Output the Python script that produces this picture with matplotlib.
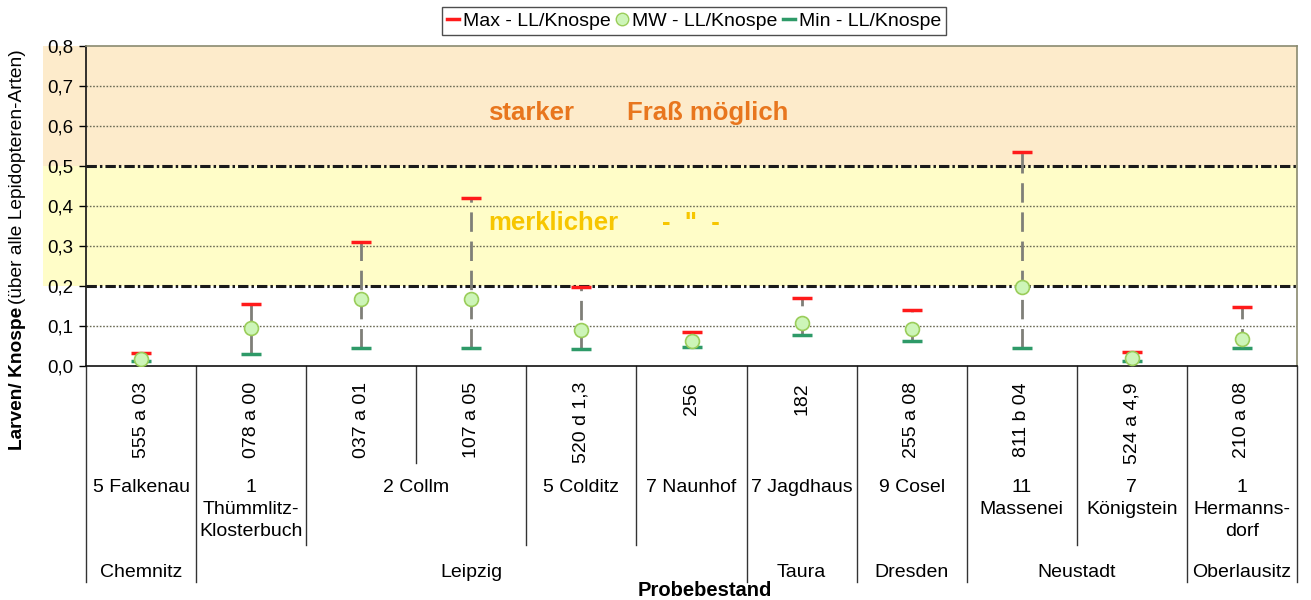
import matplotlib
matplotlib.use("Agg")
import matplotlib.pyplot as plt
import matplotlib.transforms as mtransforms
from matplotlib.patches import Rectangle
from matplotlib.lines import Line2D

plt.rcParams['font.family'] = ['Liberation Sans', 'DejaVu Sans']

# ---------------- data ----------------
codes = ["555 a 03", "078 a 00", "037 a 01", "107 a 05", "520 d 1,3", "256",
         "182", "255 a 08", "811 b 04", "524 a 4,9", "210 a 08"]
max_vals = [0.033, 0.155, 0.31, 0.42, 0.198, 0.085, 0.17, 0.14, 0.535, 0.035, 0.147]
mw_vals = [0.018, 0.095, 0.168, 0.168, 0.09, 0.063, 0.107, 0.093, 0.198, 0.02, 0.067]
min_vals = [0.012, 0.03, 0.045, 0.045, 0.043, 0.048, 0.078, 0.063, 0.045, 0.012, 0.045]

# level 2: (label, first index, last index)
revier = [("5 Falkenau", 0, 0), ("1\nThümmlitz-\nKlosterbuch", 1, 1), ("2 Collm", 2, 3),
          ("5 Colditz", 4, 4), ("7 Naunhof", 5, 5), ("7 Jagdhaus", 6, 6),
          ("9 Cosel", 7, 7), ("11\nMassenei", 8, 8), ("7\nKönigstein", 9, 9),
          ("1\nHermanns-\ndorf", 10, 10)]
# level 3
forstbezirk = [("Chemnitz", 0, 0), ("Leipzig", 1, 5), ("Taura", 6, 6),
               ("Dresden", 7, 7), ("Neustadt", 8, 9), ("Oberlausitz", 10, 10)]

yticks = [0.0, 0.1, 0.2, 0.3, 0.4, 0.5, 0.6, 0.7, 0.8]
ytick_labels = ["0,0", "0,1", "0,2", "0,3", "0,4", "0,5", "0,6", "0,7", "0,8"]

c_max = "#FF1A1A"
c_min = "#2E9A68"
c_mw_face = "#CDF5B8"
c_mw_edge = "#9ACD5A"
c_orange_band = "#FDEBCB"
c_yellow_band = "#FFFDC8"

FS = 14

fig = plt.figure(figsize=(13.11, 6.0), dpi=100)
ax = fig.add_axes([86/1311, 1 - 366/600, (1297-86)/1311, 320/600])

n = len(codes)
x = list(range(n))
ax.set_xlim(-0.5, n - 0.5)
ax.set_ylim(0, 0.8)

# background bands (extend left over tick labels like the original)
bt = mtransforms.blended_transform_factory(ax.transAxes, ax.transData)
ax.add_patch(Rectangle((-0.0355, 0.5), 1.0355, 0.3, transform=bt, facecolor=c_orange_band,
                       edgecolor='none', clip_on=False, zorder=0))
ax.add_patch(Rectangle((-0.0355, 0.2), 1.0355, 0.3, transform=bt, facecolor=c_yellow_band,
                       edgecolor='none', clip_on=False, zorder=0))

# grid lines
for yv in [0.1, 0.3, 0.4, 0.6, 0.7]:
    ax.axhline(yv, color="#6b6b55", lw=1.0, ls=(0, (1.2, 1.2)), zorder=1)
for yv in [0.2, 0.5]:
    ax.axhline(yv, color="#1a1a1a", lw=2.2, ls=(0, (3.4, 1.0, 0.8, 1.0)), zorder=1)

# connectors
ax.vlines(x, min_vals, max_vals, colors="#7f7f78", lw=2.0, linestyles=(0, (7, 3.5)), zorder=2)
ax.plot(x, max_vals, ls='none', marker='_', ms=14, mew=2.5, color=c_max, zorder=3)
ax.plot(x, min_vals, ls='none', marker='_', ms=14, mew=2.5, color=c_min, zorder=3)
ax.plot(x, mw_vals, ls='none', marker='o', ms=10, mfc=c_mw_face, mec=c_mw_edge, mew=1.2, zorder=4)

# annotations
ANN = 18.5
ax.text(3.151, 0.632, "starker", color="#E8761E", fontsize=ANN, fontweight='bold', va='center', ha='left')
ax.text(4.414, 0.632, "Fraß möglich", color="#E8761E", fontsize=ANN, fontweight='bold', va='center', ha='left')
ax.text(3.151, 0.357, "merklicher", color="#F7C600", fontsize=ANN, fontweight='bold', va='center', ha='left')
ax.text(4.73, 0.357, '-  "  -', color="#F7C600", fontsize=ANN, fontweight='bold', va='center', ha='left')

# axes styling
ax.set_yticks(yticks)
ax.set_yticklabels(ytick_labels, fontsize=13.5)
ax.tick_params(axis='y', direction='out', length=5, width=1, pad=4)
ax.set_xticks([])
ax.spines['left'].set_color('#111111')
ax.spines['bottom'].set_color('#111111')
ax.spines['top'].set_color('#8a8a70')
ax.spines['right'].set_color('#8a8a70')
for s in ax.spines.values():
    s.set_linewidth(1.2)

# multi-level category axis
xt = mtransforms.blended_transform_factory(ax.transData, ax.transAxes)
y_l1, y_l2, y_l3 = -0.303, -0.559, -0.675

def boundary_depth(b):
    if b == 0 or b == n:
        return y_l3
    if any(s == b for _, s, _ in forstbezirk):
        return y_l3
    if any(s == b for _, s, _ in revier):
        return y_l2
    return y_l1

for b in range(n + 1):
    ax.plot([b - 0.5, b - 0.5], [0, boundary_depth(b)], transform=xt, color='#333333',
            lw=1.0, clip_on=False)

for i, c in enumerate(codes):
    ax.text(i, -0.05, c, transform=xt, rotation=90, ha='center', va='top', fontsize=FS)

for lab, s, e in revier:
    ax.text((s + e) / 2, -0.352, lab, transform=xt, ha='center', va='top', fontsize=FS,
            linespacing=1.4)

for lab, s, e in forstbezirk:
    ax.text((s + e) / 2, -0.644, lab, transform=xt, ha='center', va='center', fontsize=FS)

fig.text(705/1311, 1 - 590/600, "Probebestand", ha='center', va='center', fontsize=14.5,
         fontweight='bold')

# y label: bold part + normal part
YL = 13.8
t1 = fig.text(18/1311, 1 - 450/600, "Larven/ Knospe", rotation=90, ha='center', va='bottom',
              fontsize=YL, fontweight='bold')
fig.canvas.draw()
bb = t1.get_window_extent(renderer=fig.canvas.get_renderer())
top_frac = bb.y1 / fig.bbox.height
fig.text(18/1311, top_frac + 3/600, "(über alle Lepidopteren-Arten)", rotation=90, ha='center',
         va='bottom', fontsize=YL)

# legend
handles = [Line2D([], [], color=c_max, lw=2.5),
           Line2D([], [], ls='none', marker='o', ms=9, mfc=c_mw_face, mec=c_mw_edge),
           Line2D([], [], color=c_min, lw=2.5)]
labels = ["Max - LL/Knospe", "MW - LL/Knospe", "Min - LL/Knospe"]
leg = fig.legend(handles, labels, loc='center', bbox_to_anchor=(694/1311, 1 - 21/600), ncol=3,
                 fontsize=14, frameon=True, fancybox=False, edgecolor='#222222',
                 handlelength=0.6, handletextpad=0.2, columnspacing=0.3, borderpad=0.25,
                 borderaxespad=0)
leg.get_frame().set_linewidth(1.0)

fig.savefig("out.png", dpi=100)
